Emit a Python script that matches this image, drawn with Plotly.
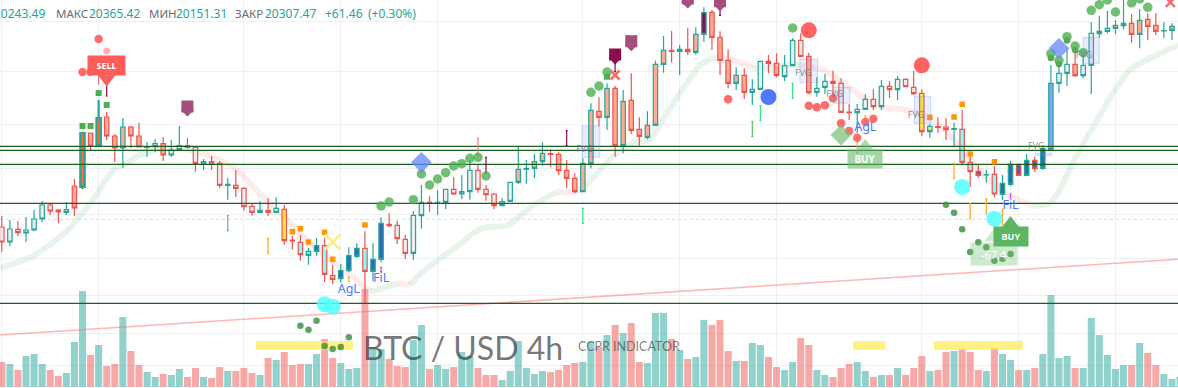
import plotly.graph_objects as go

# ---- candles (levels; level scale runs top-down)
wick_high = [216,220,221,217,210,201,203,209,202,179, 133,133,100,112,134,118,126,123,142,139,
 137,140,126,138,146.7,159,156,161,178,170, 187.3,204,201.3,198,197.3,205,235.7,235,248,238,
 238,265,264,247.3,243.3,231.3,243,217.3,213.3,221, 235,211.3,185,196.3,190,189.3,177.3,175,160,165,
 185,192.7,198,182.3,146.7,160,154,142.3,149.3,151.7, 160,173.3,158.3,103.3,97.3,83.3,86,90,73.3,117.3,
 111.3,60.7,36,31,45,28,27.3,7.3,10,31.3, 49.3,67.3,68.3,79.3,60.7,55,53.3,55,38.3,33.3,
 52.7,77,74,70.7,78.3,104,104,94.3,89.3,80, 81.3,76,78.3,71,89.3,124,117.3,118.3,122.7,110,
 156.7,165,170,166,175,161,163.3,154,156.7,146.7, 65,65,48.3,52.3,57.3,22.3,15.7,11,20,0,
 14,9.3,13.3,13.3,22.3,23.3]
body_top = [227,229,229.3,230,219,205,205,210,209.5,186, 133,133,118,117,136,127,127,136,146.7,143.7,
 143.7,150,145.7,145.7,147.3,161.7,161.7,163.3,184.3,185.3, 188.3,206.3,210.3,210.3,208.3,209.3,240,242.3,251.3,245.7,
 245.7,275.7,270.7,255.7,248.3,248.3,259.3,223.3,224.3,225.3, 239.3,215.3,202.3,202.3,202.3,189.3,189.3,191.7,170.3,170.3,
 189.3,194,201.7,182.3,169.3,168.7,161.7,153.3,153.7,154.3, 170.3,178.3,163.3,110.3,111.3,88.3,88.3,101.3,100.3,129.3,
 125.3,64.3,50.3,50.3,49.3,49.3,34.3,12.7,12.3,37.3, 60.3,75.3,75.3,89.3,61.3,61.3,63.3,65.7,40.3,40.3,
 56.3,88.3,81.3,81.3,83.3,112,109.3,99.3,99.3,86.3, 86.3,79.3,79.3,87.3,93.3,126.3,126.7,127,128.7,129.3,
 162.3,171.3,174.5,174.3,183.3,164.3,164.7,160.3,160.3,148.7, 83.3,73.3,64.3,64.3,65.3,33.3,31.3,28.3,25.3,23.3,
 23.3,20.3,19.3,25.3,30.5,26.3]
body_bottom = [242,242,232.7,233,230,219,211,212,212.5,208, 187,146,146,136,148,148,136,147,147.3,146.7,
 155,155,149.7,147.3,163.3,164,164,185.3,185.3,188.3, 206.7,212.3,212.3,212.3,212.3,240.7,241,254.7,255.3,251.3,
 274.3,279.3,278.7,270.7,256.3,271.3,271.3,259.3,225.7,238.7, 253.3,253.3,215.7,203.3,203,202.3,194,194,191.7,189.3,
 194.7,205.7,205.7,201.3,182.3,169.3,168.3,161.7,154.3,170.7, 178.3,191.7,191.7,163.7,117.3,117.3,145.7,145.7,130.3,136.3,
 137.3,125.3,64.3,51.3,51.3,51.7,52.3,34.3,37.3,60.3, 83.3,83.3,92.3,92.3,89.3,63.3,75.3,76.7,65.7,56.3,
 92.7,92.3,87.3,83.3,112.3,112.7,112.7,109.3,106.7,106.7, 89.7,89.7,86.7,93.7,131.7,131.7,127.3,129.7,129.3,162.3,
 171.7,175.3,175,194,194.5,184.3,175.3,175.3,168.7,168.3, 149.3,83.3,73.3,75.7,75.7,65.3,33.7,31.3,28.3,25.7,
 34.3,34.3,26.3,31.3,31,30.3]
wick_low = [252,246,236,242,231,222,215,223,215,216, 189,150,146,140,162,168,148,147,157,152,
 161,157,150,148.5,171.7,170,170,188.3,199.7,197, 210.7,215.7,213.3,216,213.3,244.7,249.7,260.7,264.7,255.7,
 282.3,284,282.7,272.3,258,303,281,262.3,227.3,244, 259,259.7,228.7,211.7,214.7,209,195,199,199.7,192.7,
 200.7,209,205.7,201.3,184,183.7,178.3,165.7,166.7,175, 188.3,193.3,192.3,168.3,126,130,156.7,153.3,134,145.7,
 139.3,125.3,72.7,62.7,75,55,55,41.7,50,75, 88.3,90,99,105,90,73,77.3,81,66.3,57.3,
 94.3,96.7,94,96.7,112.7,120,133,110,110,110, 98.3,100,87.3,95,136,137.7,132.7,140,147.3,165,
 186.7,177.7,182.7,197,200,186.3,176,175.7,171.7,170, 150.7,92.7,86,76.7,78.3,94,37.7,33.3,34.3,29.3,
 42.7,48.3,40,35,37.7,40]
edge = list("rtrtttrrtr" "trtrrtrrtt" "rttrrtrrtr" "rrtrtrrrtt" "rrtttrttrr"
            "rttrttrttr" "rrttttttrr" "rrttrtrtrr" "tttrtrttrr" "rtrttrrttr"
            "rttrrrttrt" "rtrrrtrrtr" "rrtrttrtrt" "tttrtttttt" "rtrrtt")
fill = list("GGGGGGGGPP" "OPOPPPPPGG" "PGGPGGGGGG" "GGGGGYGCCB" "CCBBBCBBGG"
            "GGGGGGGGGG" "GGGGPGPPGP" "PPPPPPPPPP" "PPPPPPPMPP" "PPPGGPPGGG"
            "PGGGGGGGGG" "GGGGYYGYGC" "CBGCBBBBBB" "LGGPGGGGPP" "PPPPGP")

# ---- volume
volume = [25,23,17,31,33,23,17,11,14,45, 96,32,42,21,23,70,36,22,15,10,
 13,12,18,10,19,10,9,20,16,16, 19,14,12,29,27,35,22,23,23,33,
 48,29,24,18,19,98,40,38,28,21, 20,47,62,18,22,18,20,35,31,19,
 12,12,7,16,46,19,13,16,15,17, 22,24,25,45,40,52,62,54,64,25,
 24,74,74,48,37,28,30,67,62,67, 36,26,26,44,42,30,20,17,25,49,
 42,17,12,10,19,23,25,16,10,12, 12,19,12,19,31,16,17,35,36,38,
 35,17,16,39,33,27,17,17,19,33, 92,29,31,19,19,69,52,32,18,22,
 22,44,34,22,13,8,10]
vol_dir = list("rtrtttrrtt" "trtrrtrrtt" "rttrrtrrtr" "rrtrtrrrtt" "rrtttrttrr"
               "rttrttrttr" "rrttttttrr" "rrttrtrtrr" "tttrtrttrr" "rtrttrrttr"
               "rttrrrttrt" "rtrrrtrrtr" "rrtrttrtrt" "tttrtttttt" "rtrrttt")

# ---- levels
h_levels = [146.3, 150.3, 164.3, 203.3, 303.3]
dotted_level = 219.3
trend_x = [-0.2, 145.8]
trend_y = [335, 259.3]

ribbon_green = [
    ([-0.2,3.9,8.1,10.1,11.3,13.8,15.5,17.1,19,22,24.6], [268,256,231,212,200,170,163,155,150,148,152]),
    ([45.6,46,49], [291,291,283.3]),
    ([50.6,51.8,53.4,56.8,58,59.6,62.6,63.8,65.8,68.7], [284.7,274,264,244,235.7,228,225.7,219,205.7,192]),
    ([70.8,72,74.1,75.7,78.2,80.3,82.4,84.9,86.5,88.1], [192,188,170,157,143,140,113,83,65,58]),
    ([93,95.6,97.7,98.9], [68,67,65,65]),
    ([127.8,129.7,130.8,132.7,134.8,137.7,139.8,142.3,145.8], [205.7,204,194,163,133,93,70,58,45]),
]
ribbon_red = [
    ([24.6,28.7,32,32.9,34.8,37,41,43.5,45.6], [152,167,194,201,216,234,261,277,291]),
    ([49,50.6], [283.3,284.7]),
    ([68.7,70.8], [192,192]),
    ([88.1,89.4,91.8,93], [58,58,63,68]),
    ([98.9,101.8,106,108.8,111.3,114.1,116.3,118.4,120.8,124.3,127.8], [65,70,93,107,109,115,127,143,167,193,205.7]),
]

# ---- markers
green_sq_x = [10,11,12,13,75];  green_sq_y = [126,126,93,105,76.7]
green_dot_x = [47,48,51,52,53,54,55,56,57,58,59,60,73,74,75,98,135,136,137,138,140,141,142,130,131,132,133,134]
green_dot_y = [206,202,199.7,174,185,179,172.7,166,163.7,158.3,157.3,176,92.3,86,72,28,10.3,4.7,0,12,3,-1,7.3,53.7,60.3,36.7,46,52.7]
drop_x = [37,38,39,40,41,42,43,117,118,119,121,122,120,123,124,125,126,130,131,132,133]
drop_y = [325.7,329.7,320.7,346,349,347,337.3,204.7,212.7,229.3,242.3,247.3,252,260.7,258.7,254,240.7,58,64,40.5,50]
orange_x = [36,37,38,40,41,45,119,118,115,120,123]
orange_y = [231.7,228.7,242,232.3,259.3,225,104.3,117,117.3,154,161.7]
red_dot_x = [100,101,102,103,104,105,106,107,108,90,12,10,11]
red_dot_y = [105.7,107.3,105.3,98.3,123.3,131,137.7,122,118.7,99.3,39,72,71.7]
pale_red_x = [13];  pale_red_y = [51]
big_red_x = [100,114];  big_red_y = [30.3,65.3]
big_blue_x = [95];  big_blue_y = [97]
cyan_x = [40,41,119,123];  cyan_y = [304.3,306.7,187,218.7]
shield_x = [23,78,85,89];  shield_y = [108,42.7,0,2.7]
shield_dark_x = [76];  shield_dark_y = [56]
blue_diamond_x = [52,131];  blue_diamond_y = [162.3,48.3]
green_diamond_x = [104];  green_diamond_y = [135]
red_x_x = [76,144.8];  red_x_y = [75,2.3]
yellow_x_x = [41];  yellow_x_y = [242]

stems = {
    "#66bb6a": ([28,93], [215.7,121.7], [230.7,136.7]),
    "#ffa726": ([33,43,106,107,118,120,122,124], [238.3,277.3,141.7,115.7,163.3,203.7,198.7,209.3], [253.3,281.3,153.3,118.7,178.3,218.7,213.7,224.7]),
    "#e040fb": ([47,125], [267.3,194], [271.7,198]),
    "#f47a7a": ([12,59], [73.3,138.3], [84,156]),
    "#880e4f": ([13,60,70,76,89], [82.3,157.3,130.7,63,5], [96,172.7,145.7,71.7,15.3]),
    "#2ee68a": ([72,94,98], [208.3,105.7,83.3], [223.3,120.7,98.3]),
}

fvg_left = [71.9,98.9,103.1,113.1,128.1,134]
fvg_right = [74.1,101.1,105.1,115.1,130.1,136]
fvg_top = [126,59.3,87.3,96.3,153.3,37.3]
fvg_bottom = [157.3,82.7,103.3,123.7,155.7,63.3]
fvg_text_x = [72.2,99.3,103.2,113.3,128.2,134.1]
fvg_text_y = [150,74,95,116,147,56]

tag_text = ["AgL","FiL","AgL","FiL"]
tag_x = [43,47,107,125]
tag_y = [290,279.3,128.3,205.7]

yellow_groups = list(range(32,44)) + list(range(106,110)) + list(range(116,127))
yellow_top = 341
yellow_height = 9

grid_bars = [0,12,30,42,54,72,84,96,114,126,138]
grid_levels = [21.7,71,124.3,168.3,214.7,258.3,295.7,333.3,365.7]

header = [("20243.49",47,"#26a69a","right"),("МАКС",54,"#6a6d78","left"),("20365.42",87.5,"#26a69a","left"),
          ("МИН",146.5,"#6a6d78","left"),("20151.31",174,"#26a69a","left"),("ЗАКР",233,"#6a6d78","left"),
          ("20307.47",263,"#26a69a","left"),("+61.46",322.5,"#26a69a","left"),("(+0.30%)",365.5,"#26a69a","left")]

# ---- scale of the bars on the page
BAR0, BAR = 1.8, 8.07
x_range = [-BAR0/BAR, (1178-BAR0)/BAR]
N = len(wick_high)
bars = list(range(N))
EDGE = {"r":"#ef5350","t":"#26a69a"}
FILL = {"G":"#eeeeee","P":"#ffab91","O":"#ff6a2b","Y":"#ffeb3b","C":"#80ffff","B":"#2e6db4","M":"#880e4f","L":"#7aa8f5"}
VOL = {"r":"rgba(239,83,80,0.5)","t":"rgba(38,166,154,0.5)"}

fig = go.Figure()

fig.add_trace(go.Bar(x=list(range(len(volume))), y=volume, width=0.87,
                     marker=dict(color=[VOL[d] for d in vol_dir], line_width=0), yaxis="y"))

def line(x, y, color, width, dash=None, ax="y2"):
    fig.add_trace(go.Scatter(x=x, y=y, mode="lines", yaxis=ax,
                             line=dict(color=color, width=width, dash=dash, shape="spline", smoothing=0.6)))

line(trend_x, trend_y, "rgba(255,110,110,0.5)", 1.5)
for xs, ys in ribbon_green:
    line(xs, ys, "rgba(120,190,130,0.17)", 6)
for xs, ys in ribbon_red:
    line(xs, ys, "rgba(255,120,120,0.15)", 6)
line([x_range[0], x_range[1]], [dotted_level]*2, "#d9dbe0", 1, "dot")

for e in "rt":
    for f in FILL:
        idx = [i for i in bars if edge[i]==e and fill[i]==f]
        if not idx:
            continue
        style = dict(line=dict(color=EDGE[e], width=2.2 if f=="O" else 1.2), fillcolor=FILL[f])
        fig.add_trace(go.Candlestick(
            x=idx, yaxis="y3",
            open=[body_top[i] for i in idx], close=[body_bottom[i] for i in idx],
            high=[wick_low[i] for i in idx], low=[wick_high[i] for i in idx],
            increasing=style, decreasing=style, whiskerwidth=0))

fig.add_trace(go.Bar(x=yellow_groups, y=[yellow_height]*len(yellow_groups), base=yellow_top, width=1,
                     marker=dict(color="rgba(255,235,59,0.65)", line_width=0), yaxis="y2"))

for lvl in h_levels:
    fig.add_trace(go.Scatter(x=x_range, y=[lvl,lvl], mode="lines", yaxis="y4",
                             line=dict(color="#1b5e20", width=1.2)))

for color,(xs,tops,bots) in stems.items():
    fig.add_trace(go.Scatter(x=xs, y=tops, mode="markers", yaxis="y4", marker=dict(size=1, color=color),
        error_y=dict(type="data", symmetric=False, array=[b-t for t,b in zip(tops,bots)],
                     arrayminus=[0]*len(xs), color=color, thickness=1.2, width=1)))

def mark(x, y, symbol, size, color, angle=0, ln=None):
    m = dict(symbol=symbol, size=size, color=color, angle=angle, line=dict(width=0))
    if ln:
        m["line"] = dict(width=ln, color=color)
    fig.add_trace(go.Scatter(x=x, y=y, mode="markers", yaxis="y4", marker=m))

def shield(x, y, color):
    mark(x, [v-1.5 for v in y], "square", 12, color)
    mark(x, [v+2 for v in y], "diamond", 10, color)

mark(green_sq_x, green_sq_y, "square", 6, "#4caf50")
mark(drop_x, drop_y, "circle", 6.5, "rgba(70,145,70,0.85)")
mark(green_dot_x, green_dot_y, "circle", 9.5, "rgba(76,175,80,0.8)")
mark(orange_x, orange_y, "square", 5.5, "#ff9800")
mark(red_dot_x, red_dot_y, "circle", 8.5, "rgba(255,82,82,0.85)")
mark(pale_red_x, pale_red_y, "circle", 7, "rgba(255,82,82,0.45)")
mark(big_red_x, big_red_y, "circle", 16, "rgba(255,82,82,0.9)")
mark(big_blue_x, big_blue_y, "circle", 16, "#4d78ff")
mark(cyan_x, cyan_y, "circle", 16, "rgba(80,255,255,0.85)")
shield(shield_x, shield_y, "#a4507e")
shield(shield_dark_x, shield_dark_y, "#880e4f")
mark(blue_diamond_x, blue_diamond_y, "diamond", 16, "rgba(100,135,255,0.75)")
mark(green_diamond_x, green_diamond_y, "diamond", 16, "rgba(120,190,120,0.7)")
mark(red_x_x, red_x_y, "x-thin", 9, "#ff6b6b", ln=2.5)
mark(yellow_x_x, yellow_x_y, "x-thin", 15, "#ffee88", ln=2.5)

# label pointers
mark([13], [79], "triangle-down", 15, "#ff5c5c")
mark([107], [146], "triangle-up", 14, "rgba(102,187,106,0.55)")
mark([125], [224], "triangle-up", 16, "#5cb562")
mark([123], [237], "triangle-up", 18, "rgba(102,187,106,0.3)")

fig.add_trace(go.Scatter(x=tag_x, y=tag_y, text=tag_text, mode="text", yaxis="y4",
                         textfont=dict(family="Noto Sans", size=12.5, color="#4d78ff")))
fig.add_trace(go.Scatter(x=fvg_text_x, y=fvg_text_y, text=["FVG"]*6, mode="text", yaxis="y4",
                         textfont=dict(family="Noto Sans", size=9, color="rgba(110,110,120,0.8)")))

shapes = [dict(type="rect", xref="x", yref="y4", x0=l, x1=r, y0=t, y1=b,
               fillcolor="rgba(100,140,240,0.15)", line=dict(color="rgba(100,140,240,0.3)", width=1))
          for l,r,t,b in zip(fvg_left, fvg_right, fvg_top, fvg_bottom)]

ann = []
for text, px, color, anchor in header:
    size = 12 if color == "#26a69a" else 11.5
    ann.append(dict(text=text, x=px/1178, y=1-13.3/388, xref="paper", yref="paper", showarrow=False,
                    xanchor=anchor, yanchor="middle", font=dict(family="Noto Sans", size=size, color=color)))
def tag(text, bar, level, w, h, bg, size=9, bold=True):
    ann.append(dict(text=f"<b>{text}</b>" if bold else text, x=bar, y=level, xref="x", yref="y4", showarrow=False,
                    width=w, height=h, bgcolor=bg, borderpad=0, align="center", valign="middle",
                    font=dict(family="Noto Sans", size=size, color="white")))
tag("SELL", 13, 65.5, 37, 19, "#ff5c5c")
tag("BUY", 107, 158.5, 34, 18, "rgba(102,187,106,0.6)", size=10)
tag("BUY", 125, 236.5, 34, 19, "#5cb562")
tag("-67.4", 123, 253.5, 46, 22, "rgba(102,187,106,0.33)", size=11, bold=False)
ann.append(dict(text="BTC / USD 4h", x=463/1178, y=1-347/388, xref="paper", yref="paper", showarrow=False,
                xanchor="center", yanchor="middle",
                font=dict(family="Lato", size=32, color="rgba(50,50,55,0.68)")))
ann.append(dict(text="CCPR INDICATOR", x=629/1178, y=1-346/388, xref="paper", yref="paper", showarrow=False,
                xanchor="center", yanchor="middle",
                font=dict(family="Lato", size=12.5, color="rgba(50,50,55,0.62)")))

hidden = dict(showticklabels=False, ticks="", showgrid=False, zeroline=False, showline=False, fixedrange=True)
price_axis = dict(hidden, range=[388,0], overlaying="y", domain=[0,1])
fig.update_layout(
    width=1178, height=388, margin=dict(l=0,r=0,t=0,b=0),
    paper_bgcolor="white", plot_bgcolor="white", showlegend=False, barmode="overlay",
    boxmode="overlay", boxgap=0.22,
    hovermode=False, shapes=shapes, annotations=ann,
    xaxis=dict(hidden, range=x_range, showgrid=True, gridcolor="#eff0f3", gridwidth=1.2,
               tickmode="array", tickvals=grid_bars, rangeslider=dict(visible=False)),
    yaxis=dict(hidden, range=[-1,387]),
    yaxis2=dict(price_axis, showgrid=True, gridcolor="#eff0f3", gridwidth=1.2, tickmode="array", tickvals=grid_levels),
    yaxis3=price_axis, yaxis4=price_axis,
)
fig.write_html("out.html", config=dict(displayModeBar=False),
               post_script="document.body.style.margin='0';document.body.style.overflow='hidden';")
